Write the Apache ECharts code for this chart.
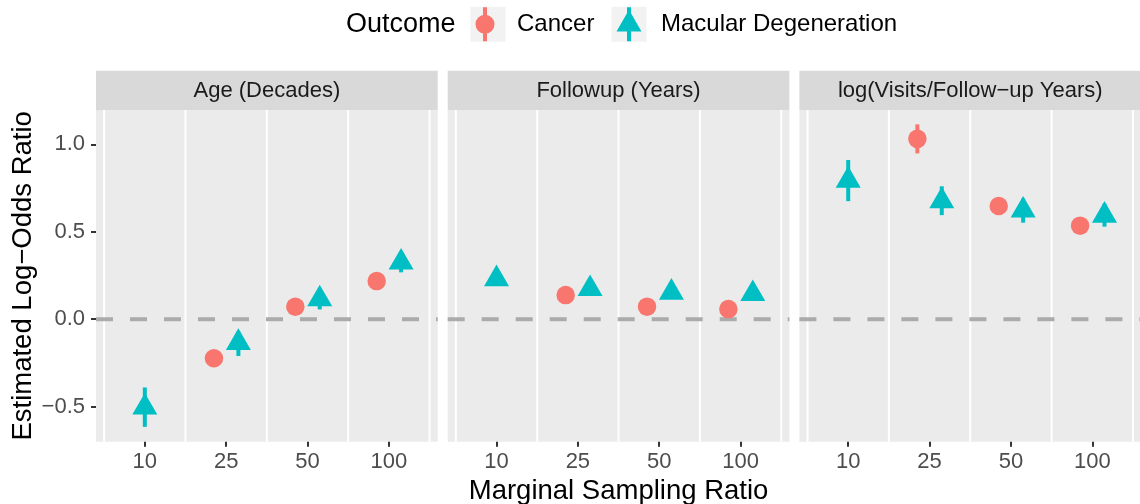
<!DOCTYPE html>
<html>
<head>
<meta charset="utf-8">
<script src="https://cdn.jsdelivr.net/npm/echarts@6/dist/echarts.min.js"></script>
<style>
html,body{margin:0;padding:0;background:#fff;}
#chart{width:1140px;height:504px;}
</style>
</head>
<body>
<div id="chart"></div>
<script>
// ---- Data ----
const categories = ['10', '25', '50', '100'];
const panels = ['Age (Decades)', 'Followup (Years)', 'log(Visits/Follow\u2212up Years)'];
const outcomes = ['Cancer', 'Macular Degeneration'];
const yTicks = [-0.5, 0, 0.5, 1.0];

// Cancer: estimate, lower, upper (per category; null = not estimated)
const ageCancer      = [null, -0.223, 0.071, 0.218];
const ageCancerLow   = [null, -0.255, 0.042, 0.188];
const ageCancerHigh  = [null, -0.192, 0.100, 0.248];
const fupCancer      = [null, 0.138, 0.072, 0.058];
const fupCancerLow   = [null, 0.110, 0.045, 0.030];
const fupCancerHigh  = [null, 0.165, 0.100, 0.085];
const visCancer      = [null, 1.031, 0.647, 0.535];
const visCancerLow   = [null, 0.948, 0.615, 0.505];
const visCancerHigh  = [null, 1.114, 0.680, 0.565];

// Macular Degeneration
const ageMacular     = [-0.504, -0.134, 0.115, 0.325];
const ageMacularLow  = [-0.615, -0.210, 0.056, 0.268];
const ageMacularHigh = [-0.390, -0.070, 0.170, 0.380];
const fupMacular     = [0.230, 0.174, 0.153, 0.145];
const fupMacularLow  = [0.200, 0.145, 0.125, 0.115];
const fupMacularHigh = [0.260, 0.205, 0.180, 0.175];
const visMacular     = [0.793, 0.675, 0.622, 0.593];
const visMacularLow  = [0.675, 0.595, 0.552, 0.529];
const visMacularHigh = [0.910, 0.760, 0.690, 0.660];

const cancerSets = [
  [ageCancer, ageCancerLow, ageCancerHigh],
  [fupCancer, fupCancerLow, fupCancerHigh],
  [visCancer, visCancerLow, visCancerHigh]
];
const macularSets = [
  [ageMacular, ageMacularLow, ageMacularHigh],
  [fupMacular, fupMacularLow, fupMacularHigh],
  [visMacular, visMacularLow, visMacularHigh]
];

// ---- Style / layout ----
const FONT = '"Liberation Sans", Arial, Helvetica, sans-serif';
const COLORS = ['#F8766D', '#00BFC4'];
const PANEL_W = 341.7;
const PANEL_LEFTS = [96, 447.7, 799.4];
const PANEL_TOP = 110;
const PANEL_H = 331.7;
const STRIP_TOP = 70.7;
const STRIP_H = 39.3;
const Y_MIN = -0.7, Y_MAX = 1.196;
const X_MIN = 0.4, X_MAX = 4.6;
const DODGE = 0.15;
const minus = s => s.replace('-', '\u2212');

function pointRows(sets, otherSets, p, side) {
  const [est, lo, hi] = sets[p];
  const other = otherSets[p][0];
  const rows = [];
  est.forEach((v, i) => {
    if (v === null) return;
    const off = other[i] === null ? 0 : side * DODGE;
    rows.push([i + 1 + off, v, lo[i], hi[i]]);
  });
  return rows;
}

const grids = [], xAxes = [], yAxes = [], series = [], graphics = [];

panels.forEach((name, p) => {
  grids.push({
    left: PANEL_LEFTS[p], top: PANEL_TOP, width: PANEL_W, height: PANEL_H,
    show: true, backgroundColor: '#EBEBEB', borderWidth: 0,
    containLabel: false, outerBoundsMode: 'none'
  });
  const tickVals = categories.map((c, i) => i + 1);
  xAxes.push({
    gridIndex: p, type: 'value', min: X_MIN, max: X_MAX, position: 'bottom',
    axisLine: { show: false, onZero: false },
    splitLine: { show: false },
    axisTick: { show: true, customValues: tickVals, length: 5, lineStyle: { color: '#333333', width: 2 } },
    axisLabel: {
      show: true, customValues: tickVals, margin: 9,
      fontSize: 22, color: '#4D4D4D', fontFamily: FONT,
      formatter: v => categories[Math.round(v) - 1]
    },
    name: p === 1 ? 'Marginal Sampling Ratio' : '',
    nameLocation: 'middle', nameGap: 36,
    nameTextStyle: { fontSize: 27.5, color: '#000', fontFamily: FONT }
  });
  yAxes.push({
    gridIndex: p, type: 'value', min: Y_MIN, max: Y_MAX, position: 'left',
    axisLine: { show: false, onZero: false },
    splitLine: { show: false },
    axisTick: { show: p === 0, customValues: yTicks, length: 5, lineStyle: { color: '#333333', width: 2 } },
    axisLabel: {
      show: p === 0, customValues: yTicks, margin: 11,
      fontSize: 22, color: '#4D4D4D', fontFamily: FONT,
      formatter: v => minus(v.toFixed(1))
    },
    name: p === 0 ? 'Estimated Log\u2212Odds Ratio' : '',
    nameLocation: 'middle', nameGap: 52,
    nameTextStyle: { fontSize: 27.5, color: '#000', fontFamily: FONT }
  });

  // vertical white grid lines between categories
  const bounds = categories.map((c, i) => i + 0.5).concat([categories.length + 0.5]);
  series.push({
    type: 'custom', xAxisIndex: p, yAxisIndex: p, z: 1, silent: true,
    data: bounds.map(b => [b]),
    renderItem: (params, api) => {
      const a = api.coord([api.value(0), Y_MIN]);
      const b = api.coord([api.value(0), Y_MAX]);
      return { type: 'line', shape: { x1: a[0], y1: a[1], x2: b[0], y2: b[1] },
               style: { stroke: '#FFFFFF', lineWidth: 2 } };
    }
  });
  // dashed zero reference line
  series.push({
    type: 'custom', xAxisIndex: p, yAxisIndex: p, z: 2, silent: true,
    data: [[0]],
    renderItem: (params, api) => {
      const a = api.coord([X_MIN, api.value(0)]);
      const b = api.coord([X_MAX, api.value(0)]);
      return { type: 'line', shape: { x1: a[0], y1: a[1], x2: b[0], y2: b[1] },
               style: { stroke: '#ABABAB', lineWidth: 4, lineDash: [17, 17] } };
    }
  });

  const rowsC = pointRows(cancerSets, macularSets, p, -1);
  const rowsM = pointRows(macularSets, cancerSets, p, 1);
  [[rowsC, 0], [rowsM, 1]].forEach(([rows, k]) => {
    series.push({
      type: 'custom', name: outcomes[k] + ' interval', xAxisIndex: p, yAxisIndex: p, z: 3, silent: true,
      data: rows.map(r => [r[0], r[2], r[3]]),
      encode: { x: 0, y: [1, 2] },
      renderItem: (params, api) => {
        const a = api.coord([api.value(0), api.value(1)]);
        const b = api.coord([api.value(0), api.value(2)]);
        return { type: 'line', shape: { x1: a[0], y1: a[1], x2: b[0], y2: b[1] },
                 style: { stroke: COLORS[k], lineWidth: 4 } };
      }
    });
  });
  series.push({
    type: 'scatter', name: outcomes[0], xAxisIndex: p, yAxisIndex: p, z: 4,
    data: rowsC.map(r => [r[0], r[1]]),
    symbol: 'circle', symbolSize: 18.5,
    itemStyle: { color: COLORS[0], opacity: 1 }
  });
  series.push({
    type: 'scatter', name: outcomes[1], xAxisIndex: p, yAxisIndex: p, z: 4,
    data: rowsM.map(r => [r[0], r[1]]),
    symbol: 'triangle', symbolSize: [25, 21.6], symbolOffset: [0, -3.6],
    itemStyle: { color: COLORS[1], opacity: 1 }
  });

  // facet strip
  graphics.push({ type: 'rect', z: 0, silent: true,
    shape: { x: PANEL_LEFTS[p], y: STRIP_TOP, width: PANEL_W, height: STRIP_H },
    style: { fill: '#D9D9D9' } });
  graphics.push({ type: 'text', z: 1, silent: true,
    x: PANEL_LEFTS[p] + PANEL_W / 2, y: STRIP_TOP + STRIP_H / 2 + 1,
    style: { text: name, fontSize: 22, fill: '#1A1A1A', fontFamily: FONT, align: 'center', verticalAlign: 'middle' } });
});

// legend title and key backgrounds
graphics.push({ type: 'text', silent: true, x: 346, y: 24.5,
  style: { text: 'Outcome', fontSize: 27, fill: '#000', fontFamily: FONT, align: 'left', verticalAlign: 'middle' } });
const KEY_CENTERS = [488, 629];
KEY_CENTERS.forEach(cx => graphics.push({ type: 'rect', silent: true, z: 0,
  shape: { x: cx - 17.5, y: 6.7, width: 35, height: 35 }, style: { fill: '#F2F2F2' } }));

const icons = [
  'path://M-2,-17L2,-17L2,17L-2,17Z M9.5,0A9.5,9.5 0 1,1 -9.5,0A9.5,9.5 0 1,1 9.5,0Z',
  'path://M-2,-17L2,-17L2,17L-2,17Z M0,-14.4L12.5,7.2L-12.5,7.2Z'
];
const legends = outcomes.map((o, k) => ({
  data: [{ name: o, icon: icons[k] }],
  left: KEY_CENTERS[k] - 12.5, top: 7.2,
  orient: 'horizontal', itemWidth: 25, itemHeight: 34, symbolKeepAspect: true,
  selectedMode: false, padding: 0, z: 5,
  textStyle: { fontSize: 24, color: '#000', fontFamily: FONT, padding: [0, 0, 0, 14.5] }
}));

const chart = echarts.init(document.getElementById('chart'), null, { renderer: 'canvas' });
chart.setOption({
  backgroundColor: '#FFFFFF',
  animation: false,
  textStyle: { fontFamily: FONT },
  grid: grids, xAxis: xAxes, yAxis: yAxes,
  legend: legends,
  graphic: { elements: graphics },
  series: series
});
</script>
</body>
</html>
